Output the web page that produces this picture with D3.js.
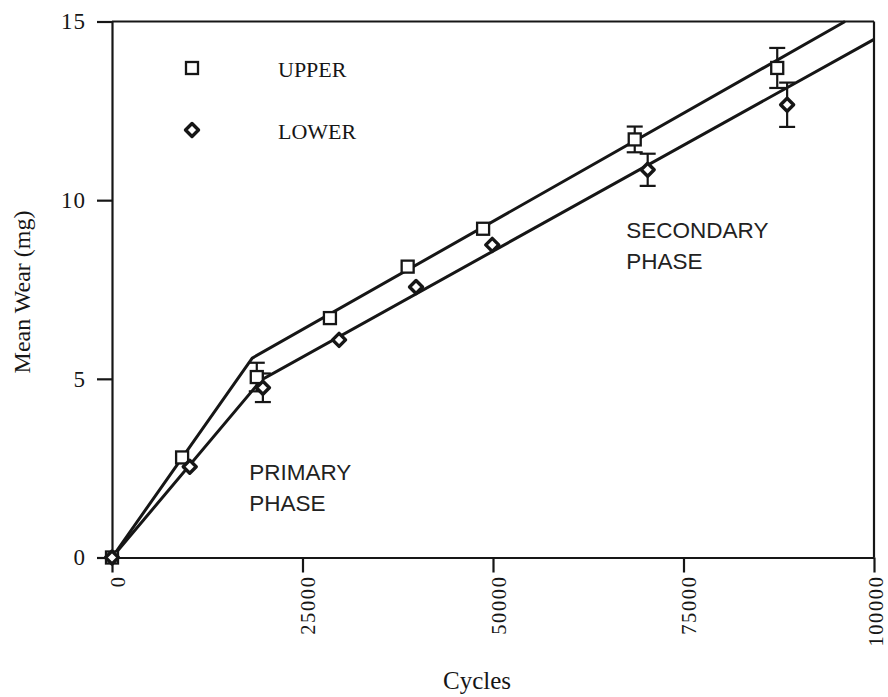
<!DOCTYPE html>
<html>
<head>
<meta charset="utf-8">
<script src="https://cdnjs.cloudflare.com/ajax/libs/d3/7.8.5/d3.min.js"></script>
<style>
  html, body { margin: 0; padding: 0; background: #fff; }
  svg { display: block; }
</style>
</head>
<body>
<svg id="chart" width="888" height="697"></svg>
<script>
// ---- data ----
const upperCycles = [0, 9200, 19000, 28600, 38800, 48700, 68600, 87300];
const upperWear   = [0, 2.8, 5.05, 6.7, 8.14, 9.2, 11.7, 13.7];
const upperErr    = [0, 0, 0.4, 0, 0, 0, 0.36, 0.56];

const lowerCycles = [0, 10200, 19800, 29800, 39900, 49900, 70300, 88600];
const lowerWear   = [0, 2.54, 4.75, 6.09, 7.57, 8.75, 10.85, 12.67];
const lowerErr    = [0, 0, 0.4, 0, 0, 0, 0.45, 0.62];

// fitted two-phase lines
const upperFitCycles = [0, 18400, 96200];
const upperFitWear   = [0, 5.58, 15];
const lowerFitCycles = [0, 19600, 100000];
const lowerFitWear   = [0, 4.97, 14.5];

const xTicks = [0, 25000, 50000, 75000, 100000];
const yTicks = [0, 5, 10, 15];
const legendLabels = ["UPPER", "LOWER"];
const phaseLabels = [["PRIMARY", "PHASE"], ["SECONDARY", "PHASE"]];
const phaseAnchors = [[18000, 2.17], [67500, 8.95]];

// ---- layout ----
const svg = d3.select("#chart");
const x = d3.scaleLinear().domain([0, 100000]).range([112, 874]);
const y = d3.scaleLinear().domain([0, 15]).range([557.5, 21.5]);
const ink = "#161616";
const serif = "'Liberation Serif', 'Times New Roman', serif";
const sans = "'Liberation Sans', Arial, sans-serif";

// frame (top and right)
svg.append("line").attr("x1", x(0)).attr("x2", x(100000)).attr("y1", y(15)).attr("y2", y(15))
  .attr("stroke", ink).attr("stroke-width", 2.2);
svg.append("line").attr("x1", x(100000)).attr("x2", x(100000)).attr("y1", y(15)).attr("y2", y(0))
  .attr("stroke", ink).attr("stroke-width", 2.2);

// x axis
const xAxis = svg.append("g").attr("transform", `translate(0,${y(0)})`)
  .call(d3.axisBottom(x).tickValues(xTicks).tickSize(15).tickSizeOuter(0).tickFormat(d3.format("d")));
xAxis.select(".domain").attr("stroke", ink).attr("stroke-width", 2.2);
xAxis.selectAll(".tick line").attr("stroke", ink).attr("stroke-width", 2.2);
xAxis.selectAll(".tick text")
  .attr("font-family", serif).attr("font-size", 20.5).attr("fill", ink)
  .attr("letter-spacing", 1.6)
  .attr("text-anchor", "end")
  .attr("transform", (d, i) => `translate(${i === xTicks.length - 1 ? 1 : 5},18) rotate(-90)`)
  .attr("x", 0).attr("y", 0).attr("dy", "0.35em");

// y axis
const yAxis = svg.append("g").attr("transform", `translate(${x(0)},0)`)
  .call(d3.axisLeft(y).tickValues(yTicks).tickSize(15).tickSizeOuter(0).tickPadding(11));
yAxis.select(".domain").attr("stroke", ink).attr("stroke-width", 2.2);
yAxis.selectAll(".tick line").attr("stroke", ink).attr("stroke-width", 2.2);
yAxis.selectAll(".tick text")
  .attr("font-family", serif).attr("font-size", 23).attr("fill", ink).attr("letter-spacing", 1);

// axis titles
svg.append("text").attr("x", 477).attr("y", 689).attr("text-anchor", "middle")
  .attr("font-family", serif).attr("font-size", 25).attr("fill", ink).text("Cycles");
svg.append("text").attr("transform", "translate(30,292) rotate(-90)").attr("text-anchor", "middle")
  .attr("font-family", serif).attr("font-size", 24).attr("fill", ink).text("Mean Wear (mg)");

// fitted lines
const line = d3.line().x(d => x(d[0])).y(d => y(d[1]));
const upperFit = upperFitCycles.map((c, i) => [c, upperFitWear[i]]);
const lowerFit = lowerFitCycles.map((c, i) => [c, lowerFitWear[i]]);
[upperFit, lowerFit].forEach(pts => {
  svg.append("path").attr("d", line(pts)).attr("fill", "none")
    .attr("stroke", ink).attr("stroke-width", 3).attr("stroke-linejoin", "miter");
});

// error bars
function errorBars(cyc, wear, err) {
  cyc.forEach((c, i) => {
    if (!err[i]) return;
    const cx = x(c), y1 = y(wear[i] + err[i]), y2 = y(wear[i] - err[i]);
    const g = svg.append("g").attr("stroke", ink).attr("stroke-width", 2.2);
    g.append("line").attr("x1", cx).attr("x2", cx).attr("y1", y1).attr("y2", y2);
    g.append("line").attr("x1", cx - 8).attr("x2", cx + 8).attr("y1", y1).attr("y2", y1);
    g.append("line").attr("x1", cx - 8).attr("x2", cx + 8).attr("y1", y2).attr("y2", y2);
  });
}
errorBars(upperCycles, upperWear, upperErr);
errorBars(lowerCycles, lowerWear, lowerErr);

// markers
function square(g, cx, cy) {
  g.append("rect").attr("x", cx - 6).attr("y", cy - 6).attr("width", 12).attr("height", 12)
    .attr("fill", "#fff").attr("stroke", ink).attr("stroke-width", 2.3);
}
function diamond(g, cx, cy) {
  g.append("path").attr("d", `M${cx},${cy - 6.5}L${cx + 6.5},${cy}L${cx},${cy + 6.5}L${cx - 6.5},${cy}Z`)
    .attr("fill", "#fff").attr("stroke", ink).attr("stroke-width", 3.4).attr("stroke-linejoin", "round");
}
const marks = svg.append("g");
upperCycles.forEach((c, i) => square(marks, x(c), y(upperWear[i])));
lowerCycles.forEach((c, i) => diamond(marks, x(c), y(lowerWear[i])));

// legend
const leg = svg.append("g");
square(leg, 192, 68);
diamond(leg, 192, 130);
leg.append("text").attr("x", 278).attr("y", 77).attr("font-family", serif).attr("font-size", 22)
  .attr("fill", ink).text(legendLabels[0]);
leg.append("text").attr("x", 278).attr("y", 139).attr("font-family", serif).attr("font-size", 22)
  .attr("fill", ink).text(legendLabels[1]);

// phase annotations
phaseLabels.forEach((lines, k) => {
  const t = svg.append("text").attr("font-family", sans).attr("font-size", 22.5).attr("fill", "#222");
  lines.forEach((s, j) => {
    t.append("tspan").attr("x", x(phaseAnchors[k][0])).attr("y", y(phaseAnchors[k][1]) + j * 31).text(s);
  });
});
</script>
</body>
</html>
